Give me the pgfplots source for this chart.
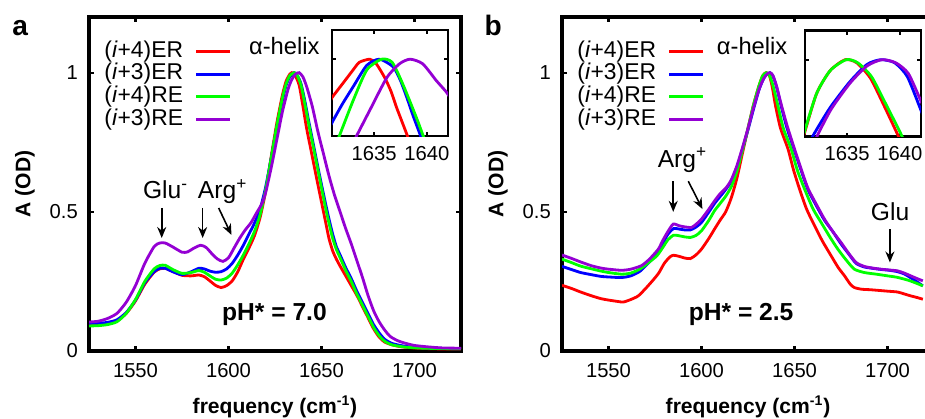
\documentclass[border=0pt]{standalone}
\usepackage{fontspec}
\setmainfont{Liberation Sans}
\usepackage{pgfplots}
\pgfplotsset{compat=1.18}
\usetikzlibrary{arrows.meta}

\definecolor{cred}{RGB}{255,0,0}
\definecolor{cblue}{RGB}{0,0,255}
\definecolor{cgreen}{RGB}{0,255,0}
\definecolor{cpurple}{RGB}{148,0,211}

\tikzset{
  ann/.style={font=\fontsize{14}{14}\selectfont, anchor=base west, inner sep=0pt},
  arr/.style={-{Stealth[length=2.2mm,width=1.8mm]}, line width=0.9pt},
}

\pgfplotsset{
  mainax/.style={
    scale only axis, width=7.44cm, height=6.68cm,
    xmin=1525, xmax=1725, ymin=0, ymax=1.2,
    xtick={1550,1600,1650,1700}, ytick={0,0.5,1},
    tick align=inside, major tick length=0.1cm,
    every tick/.style={black, line width=1.2pt},
    axis line style={line width=1.8pt},
    tick label style={font=\fontsize{11.5}{12}\selectfont},
    xticklabel style={yshift=-0.12cm},
    yticklabel style={xshift=-0.1cm},
    /pgf/number format/assume math mode=true,
    /pgf/number format/1000 sep={},
    xlabel={frequency (cm\textsuperscript{-1})},
    ylabel={A (OD)},
    label style={font=\fontsize{12}{14}\selectfont\bfseries},
    xlabel style={at={(axis description cs:0.5,-0.186)}, anchor=base},
    ylabel style={at={(axis description cs:-0.172,0.5)}, anchor=center},
    clip mode=individual,
    legend style={at={(axis description cs:0.384,0.929)}, anchor=north east,
      draw=none, fill=none, inner sep=0pt, outer sep=0pt,
      font=\fontsize{13}{13}\selectfont, row sep=0.6pt,
      nodes={inner sep=0pt, text height=9.3pt, text depth=3pt},
      /tikz/every odd column/.append style={column sep=0.24cm}},
    legend cell align=right,
    legend plot pos=right,
    legend image code/.code={\draw[##1] (0cm,0cm) -- (0.68cm,0cm);},
  },
  insetax/.style={
    scale only axis, width=2.32cm, height=2.12cm,
    xmin=1631, xmax=1642, ymin=0.95, ymax=1.019,
    xtick={1635,1640}, ytick={1}, yticklabels={},
    tick align=inside, major tick length=0.08cm,
    every tick/.style={black, line width=1.2pt},
    axis line style={line width=1.6pt},
    tick label style={font=\fontsize{11.5}{12}\selectfont},
    xticklabel style={yshift=-0.08cm},
    /pgf/number format/assume math mode=true,
    /pgf/number format/1000 sep={},
    axis background/.style={fill=white},
  },
  ln/.style={line width=1.6pt, smooth, tension=0.4},
}

\begin{document}
\begin{tikzpicture}
% ---------------- panel a ----------------
\begin{axis}[mainax, at={(1.78cm,1.34cm)}, anchor=south west]
\addplot[cred, ln] table {
1525 0.094
1530 0.095
1535 0.098
1540 0.108
1545 0.135
1550 0.18
1555 0.24
1560 0.283
1563 0.295
1566 0.297
1570 0.286
1575 0.272
1580 0.27
1584 0.273
1587 0.267
1590 0.252
1593 0.236
1596 0.228
1599 0.235
1602 0.252
1605 0.285
1608 0.33
1611 0.37
1614 0.415
1617 0.48
1620 0.575
1623 0.7
1626 0.82
1629 0.92
1631 0.97
1633 0.995
1634 1.0
1635 0.997
1636 0.988
1638 0.955
1640 0.88
1642 0.80
1645 0.70
1648 0.6
1650 0.535
1652 0.47
1654 0.405
1656 0.36
1658 0.33
1660 0.305
1663 0.27
1666 0.235
1669 0.2
1672 0.16
1675 0.12
1678 0.08
1681 0.05
1684 0.032
1688 0.022
1693 0.015
1700 0.011
1710 0.008
1725 0.007
};
\addlegendentry{(\textit{i}+4)ER}
\addplot[cblue, ln] table {
1525 0.1
1530 0.1
1535 0.103
1540 0.112
1545 0.138
1550 0.183
1555 0.245
1560 0.285
1563 0.297
1566 0.297
1570 0.285
1575 0.274
1580 0.285
1584 0.297
1587 0.295
1590 0.287
1593 0.283
1596 0.285
1599 0.295
1602 0.315
1605 0.345
1608 0.38
1611 0.42
1614 0.46
1617 0.51
1620 0.59
1623 0.695
1626 0.805
1629 0.9
1631 0.955
1633 0.985
1635.3 1.0
1637 0.99
1639 0.96
1641 0.9
1643 0.83
1646 0.73
1649 0.63
1652 0.535
1654 0.475
1656 0.42
1658 0.375
1660 0.345
1663 0.3
1666 0.26
1669 0.215
1672 0.175
1675 0.135
1678 0.095
1681 0.065
1684 0.042
1688 0.027
1695 0.017
1705 0.011
1725 0.008
};
\addlegendentry{(\textit{i}+3)ER}
\addplot[cgreen, ln] table {
1525 0.09
1530 0.091
1535 0.095
1540 0.105
1545 0.135
1550 0.185
1555 0.25
1560 0.295
1563 0.307
1566 0.308
1570 0.293
1575 0.279
1580 0.282
1584 0.289
1587 0.283
1590 0.27
1593 0.258
1596 0.255
1599 0.262
1602 0.28
1605 0.31
1608 0.345
1611 0.385
1614 0.43
1617 0.49
1620 0.58
1623 0.695
1626 0.81
1629 0.91
1631 0.96
1633 0.99
1635.5 1.0
1637 0.99
1639 0.955
1641 0.89
1643 0.82
1646 0.72
1649 0.62
1652 0.52
1654 0.46
1656 0.405
1658 0.365
1660 0.335
1663 0.29
1666 0.25
1669 0.205
1672 0.165
1675 0.125
1678 0.085
1681 0.055
1684 0.035
1688 0.022
1695 0.014
1705 0.01
1725 0.008
};
\addlegendentry{(\textit{i}+4)RE}
\addplot[cpurple, ln] table {
1525 0.104
1530 0.107
1535 0.117
1540 0.135
1545 0.175
1550 0.235
1555 0.315
1560 0.375
1563 0.388
1566 0.388
1570 0.374
1575 0.355
1578 0.356
1581 0.368
1585 0.38
1588 0.372
1591 0.35
1594 0.331
1597 0.322
1600 0.335
1603 0.37
1606 0.405
1609 0.435
1612 0.46
1615 0.495
1618 0.53
1620 0.57
1623 0.66
1626 0.76
1629 0.86
1632 0.94
1634 0.975
1636 0.995
1638 1.0
1640 0.985
1642 0.95
1645 0.88
1648 0.79
1651 0.71
1654 0.63
1657 0.56
1660 0.5
1663 0.44
1666 0.385
1669 0.325
1672 0.265
1675 0.2
1678 0.145
1681 0.105
1684 0.075
1687 0.052
1691 0.037
1695 0.028
1700 0.02
1707 0.015
1715 0.011
1725 0.01
};
\addlegendentry{(\textit{i}+3)RE}
\node[font=\fontsize{13.5}{13.5}\selectfont] at (axis cs:1630,1.094) {α-helix};
\node[font=\fontsize{14}{14}\selectfont\bfseries] at (axis cs:1624.7,0.13) {pH* = 7.0};
\node[ann] at (axis cs:1553.9,0.547) {Glu\textsuperscript{-}};
\node[ann] at (axis cs:1583.4,0.547) {Arg\textsuperscript{+}};
\draw[arr] (axis cs:1564.1,0.514) -- (axis cs:1564.1,0.406);
\draw[arr] (axis cs:1586.1,0.514) -- (axis cs:1586.1,0.406);
\draw[arr] (axis cs:1594.7,0.514) -- (axis cs:1601.6,0.417);
\node[font=\fontsize{16}{16}\selectfont\bfseries] at (axis description cs:-0.185,0.966) {a};
\end{axis}
% inset a
\begin{axis}[insetax, at={(6.64cm,5.64cm)}, anchor=south west]
\addplot[cred, ln] table {
1630.8 0.972
1631 0.975
1632 0.984
1633 0.993
1633.6 0.998
1634.6 1.0
1635.2 0.997
1636 0.988
1636.6 0.979
1637.1 0.969
1637.6 0.96
1638.1 0.951
1638.5 0.943
};
\addplot[cblue, ln] table {
1630.8 0.956
1631.1 0.96
1632 0.971
1633 0.982
1634.3 0.996
1635.5 1.0
1636.8 0.995
1637.5 0.986
1638.1 0.975
1638.7 0.963
1639.3 0.952
1639.6 0.946
};
\addplot[cgreen, ln] table {
1631.5 0.947
1631.75 0.951
1633 0.973
1634.3 0.993
1635.7 1.0
1636.7 0.998
1637.7 0.984
1639 0.962
1639.6 0.951
1639.9 0.946
};
\addplot[cpurple, ln] table {
1633.1 0.947
1633.4 0.951
1634.6 0.967
1636.2 0.988
1637.4 0.997
1638.4 1.0
1639.6 0.997
1640.9 0.986
1641.8 0.979
1642.2 0.975
};
\end{axis}
% ---------------- panel b ----------------
\begin{axis}[mainax, at={(11.24cm,1.34cm)}, anchor=south west]
\addplot[cred, ln] table {
1525 0.236
1530 0.225
1535 0.212
1541 0.198
1546 0.188
1550 0.183
1555 0.178
1558 0.176
1562 0.185
1566 0.198
1570 0.225
1574 0.255
1577 0.28
1580 0.315
1583 0.338
1585 0.344
1588 0.34
1591 0.334
1594 0.332
1597 0.345
1600 0.366
1604 0.405
1607 0.438
1610 0.47
1613 0.5
1616 0.55
1619 0.62
1622 0.71
1625 0.8
1628 0.885
1631 0.955
1633 0.99
1634.8 1.0
1636.5 0.99
1638 0.95
1639.8 0.881
1642.5 0.8
1646.5 0.726
1649.5 0.65
1652.7 0.582
1656.5 0.51
1660.8 0.45
1665 0.395
1669.7 0.342
1673.5 0.3
1676.9 0.27
1680 0.24
1682.2 0.228
1686 0.222
1691.1 0.22
1700 0.215
1705.4 0.212
1709 0.205
1712.5 0.198
1716 0.192
1719 0.186
};
\addlegendentry{(\textit{i}+4)ER}
\addplot[cblue, ln] table {
1525 0.304
1530 0.293
1535 0.282
1541 0.274
1546 0.268
1550 0.266
1557 0.264
1562 0.27
1567 0.287
1572 0.32
1576 0.348
1579 0.385
1582 0.42
1585 0.44
1588 0.438
1591 0.435
1594 0.435
1597 0.445
1600 0.462
1604 0.5
1607 0.53
1610 0.555
1613 0.58
1616 0.61
1619 0.66
1622 0.725
1625 0.795
1628 0.87
1631 0.94
1633.5 0.98
1635.5 0.997
1636.8 1.0
1638.3 0.99
1640.3 0.95
1642.9 0.878
1646 0.8
1650 0.72
1653.5 0.65
1657.2 0.58
1661.5 0.525
1666.1 0.47
1670.5 0.43
1675 0.385
1679 0.35
1683.1 0.315
1687.5 0.302
1692 0.297
1696.5 0.293
1701 0.29
1705.4 0.285
1709 0.277
1712.5 0.263
1716 0.248
1719 0.234
};
\addlegendentry{(\textit{i}+3)ER}
\addplot[cgreen, ln] table {
1525 0.33
1530 0.318
1535 0.305
1541 0.295
1546 0.287
1550 0.282
1557 0.276
1562 0.28
1567 0.295
1572 0.32
1576 0.342
1579 0.37
1582 0.4
1585 0.416
1588 0.414
1591 0.41
1594 0.408
1597 0.415
1600 0.432
1604 0.47
1607 0.504
1610 0.53
1613 0.556
1616 0.59
1619 0.645
1622 0.72
1625 0.8
1628 0.885
1631 0.955
1633 0.99
1634.9 1.0
1636.6 0.99
1638.6 0.95
1641.1 0.881
1644 0.8
1648.2 0.726
1651.5 0.65
1655.4 0.582
1660 0.51
1664.3 0.462
1669 0.41
1673.3 0.366
1678 0.325
1682.2 0.294
1687.5 0.282
1694 0.276
1700 0.27
1705 0.265
1710.8 0.255
1715 0.245
1719 0.234
};
\addlegendentry{(\textit{i}+4)RE}
\addplot[cpurple, ln] table {
1525 0.345
1530 0.333
1535 0.32
1541 0.306
1546 0.298
1550 0.294
1557 0.29
1562 0.294
1567.8 0.307
1572 0.33
1576.8 0.366
1579 0.395
1582 0.43
1584.8 0.456
1588 0.45
1591 0.446
1594.6 0.444
1597 0.455
1600 0.474
1604 0.51
1607.1 0.54
1610 0.565
1613.4 0.588
1616 0.615
1619 0.665
1622 0.73
1625 0.8
1628 0.875
1631 0.942
1633.5 0.98
1635.5 0.997
1636.8 1.0
1638.3 0.991
1640.3 0.953
1642.9 0.885
1646 0.81
1650 0.726
1653.5 0.655
1657.2 0.585
1661.5 0.53
1666.1 0.474
1670.5 0.43
1675 0.39
1679 0.352
1683.1 0.318
1687.5 0.304
1692 0.298
1696.5 0.294
1701 0.291
1705.4 0.288
1709 0.28
1712.5 0.27
1716 0.26
1719 0.252
};
\addlegendentry{(\textit{i}+3)RE}
\node[font=\fontsize{13.5}{13.5}\selectfont] at (axis cs:1627.2,1.094) {α-helix};
\node[font=\fontsize{14}{14}\selectfont\bfseries] at (axis cs:1621.3,0.13) {pH* = 2.5};
\node[ann] at (axis cs:1576.3,0.661) {Arg\textsuperscript{+}};
\node[ann] at (axis cs:1690.9,0.468) {Glu};
\draw[arr] (axis cs:1584.8,0.61) -- (axis cs:1584.8,0.50);
\draw[arr] (axis cs:1592.9,0.61) -- (axis cs:1600.5,0.51);
\draw[arr] (axis cs:1701.3,0.438) -- (axis cs:1701.3,0.318);
\node[font=\fontsize{16}{16}\selectfont\bfseries] at (axis description cs:-0.185,0.975) {b};
\end{axis}
% inset b
\begin{axis}[insetax, at={(16.1cm,5.63cm)}, anchor=south west]
\addplot[cred, ln] table {
1630.9 0.951
1632.1 0.978
1633.4 0.993
1634.8 1.0
1635.9 0.998
1637.2 0.988
1638.5 0.97
1639.8 0.951
1640.1 0.946
};
\addplot[cblue, ln] table {
1631.5 0.946
1631.8 0.951
1633.4 0.969
1635.3 0.986
1636.9 0.997
1638.2 1.0
1639.5 0.998
1640.7 0.989
1642 0.967
1642.3 0.962
};
\addplot[cgreen, ln] table {
1630.9 0.952
1632.1 0.978
1633.4 0.993
1634.9 1.0
1636 0.998
1637.3 0.989
1638.6 0.972
1640.0 0.953
1640.4 0.947
};
\addplot[cpurple, ln] table {
1631.9 0.946
1632.2 0.951
1633.5 0.968
1635.3 0.985
1636.9 0.996
1638.3 1.0
1639.6 0.998
1640.8 0.991
1642 0.973
1642.3 0.969
};
\end{axis}
\pgfresetboundingbox
\path[use as bounding box] (0,0) rectangle (18.5,8.36);
\end{tikzpicture}
\end{document}
